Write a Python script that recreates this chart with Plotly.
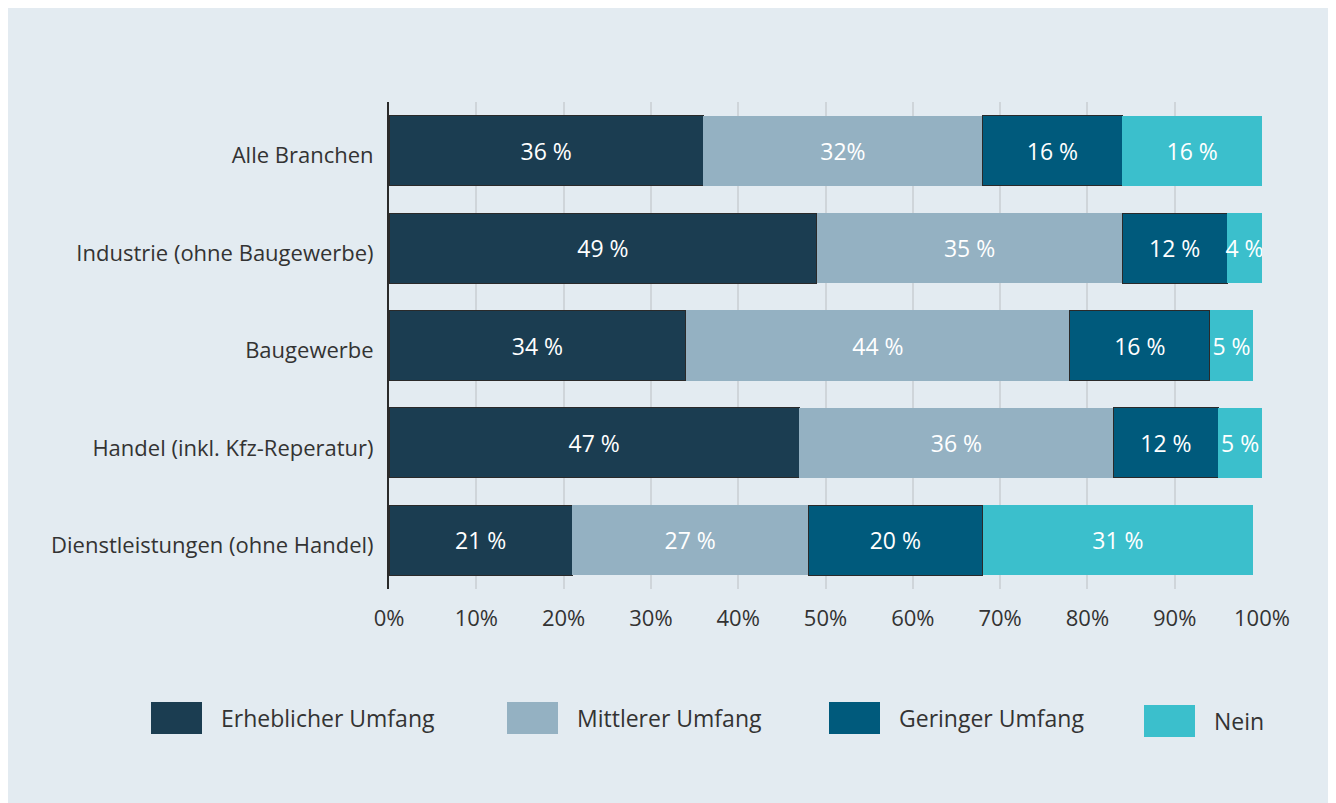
import plotly.graph_objects as go

# Data
branchen = [
    "Alle Branchen",
    "Industrie (ohne Baugewerbe)",
    "Baugewerbe",
    "Handel (inkl. Kfz-Reperatur)",
    "Dienstleistungen (ohne Handel)",
]
series_names = ["Erheblicher Umfang", "Mittlerer Umfang", "Geringer Umfang", "Nein"]
erheblich = [36, 49, 34, 47, 21]
mittel = [32, 35, 44, 36, 27]
gering = [16, 12, 16, 12, 20]
nein = [16, 4, 5, 5, 31]
# the source prints one label without the space
mittel_labels = ["32%", "35 %", "44 %", "36 %", "27 %"]

colors = ["#1b3d51", "#94b1c2", "#005a7c", "#3bbfcc"]
outlines = ["#2a2a2a", None, "#2a2a2a", None]

W, H = 1336, 803
OFF = 8  # page body margin
L, T = 389 - OFF, 102 - OFF
R = W + OFF - 1262
B = H + OFF - 589
FONT = "Open Sans"
TXT = "#333333"


def px_x(x):
    # page pixel -> paper fraction
    return (x - OFF - L) / (W - L - R)


def px_y(y):
    return (H - B - (y - OFF)) / (H - T - B)


fig = go.Figure()

all_values = [erheblich, mittel, gering, nein]
for i, (name, vals) in enumerate(zip(series_names, all_values)):
    labels = mittel_labels if i == 1 else [f"{v} %" for v in vals]
    line = dict(width=1, color=outlines[i]) if outlines[i] else dict(width=0)
    fig.add_trace(go.Bar(
        y=branchen,
        x=vals,
        name=name,
        orientation="h",
        marker=dict(color=colors[i], line=line),
        text=labels,
        textposition="inside",
        insidetextanchor="middle",
        textangle=0,
        constraintext="none",
        textfont=dict(family=FONT, size=23, color="white"),
        showlegend=False,
    ))

# legend drawn by hand to get the large swatches
legend_x = [151, 507, 829, 1144]
legend_y = [702, 702, 702, 705]
for name, col, lx, ly in zip(series_names, colors, legend_x, legend_y):
    fig.add_shape(type="rect", xref="paper", yref="paper",
                  x0=px_x(lx), x1=px_x(lx + 51), y0=px_y(ly + 32), y1=px_y(ly),
                  fillcolor=col, line=dict(width=0))
    fig.add_annotation(xref="paper", yref="paper",
                       x=px_x(lx + 68), y=px_y(ly + 16),
                       text=name, showarrow=False, xanchor="left", yanchor="middle",
                       font=dict(family=FONT, size=23, color=TXT))

fig.update_layout(
    width=W, height=H,
    barmode="stack",
    bargap=0.28,
    margin=dict(l=L, r=R, t=T, b=B),
    paper_bgcolor="#e3ebf1",
    plot_bgcolor="rgba(0,0,0,0)",
    font=dict(family=FONT, size=22, color=TXT),
)
fig.update_xaxes(
    range=[0, 100],
    dtick=10,
    ticksuffix="%",
    showgrid=True,
    gridcolor="#cfd5da",
    gridwidth=2,
    zeroline=False,
    showline=False,
    ticks="",
    ticklabelstandoff=14,
    tickfont=dict(family=FONT, size=22, color=TXT),
)
fig.update_yaxes(
    autorange="reversed",
    showgrid=False,
    showline=True,
    linecolor="#2a2a2a",
    linewidth=2,
    ticks="",
    ticklabelstandoff=9,
    ticklabelshift=-5,
    tickfont=dict(family=FONT, size=22, color=TXT),
)

fig.write_html("out.html")
